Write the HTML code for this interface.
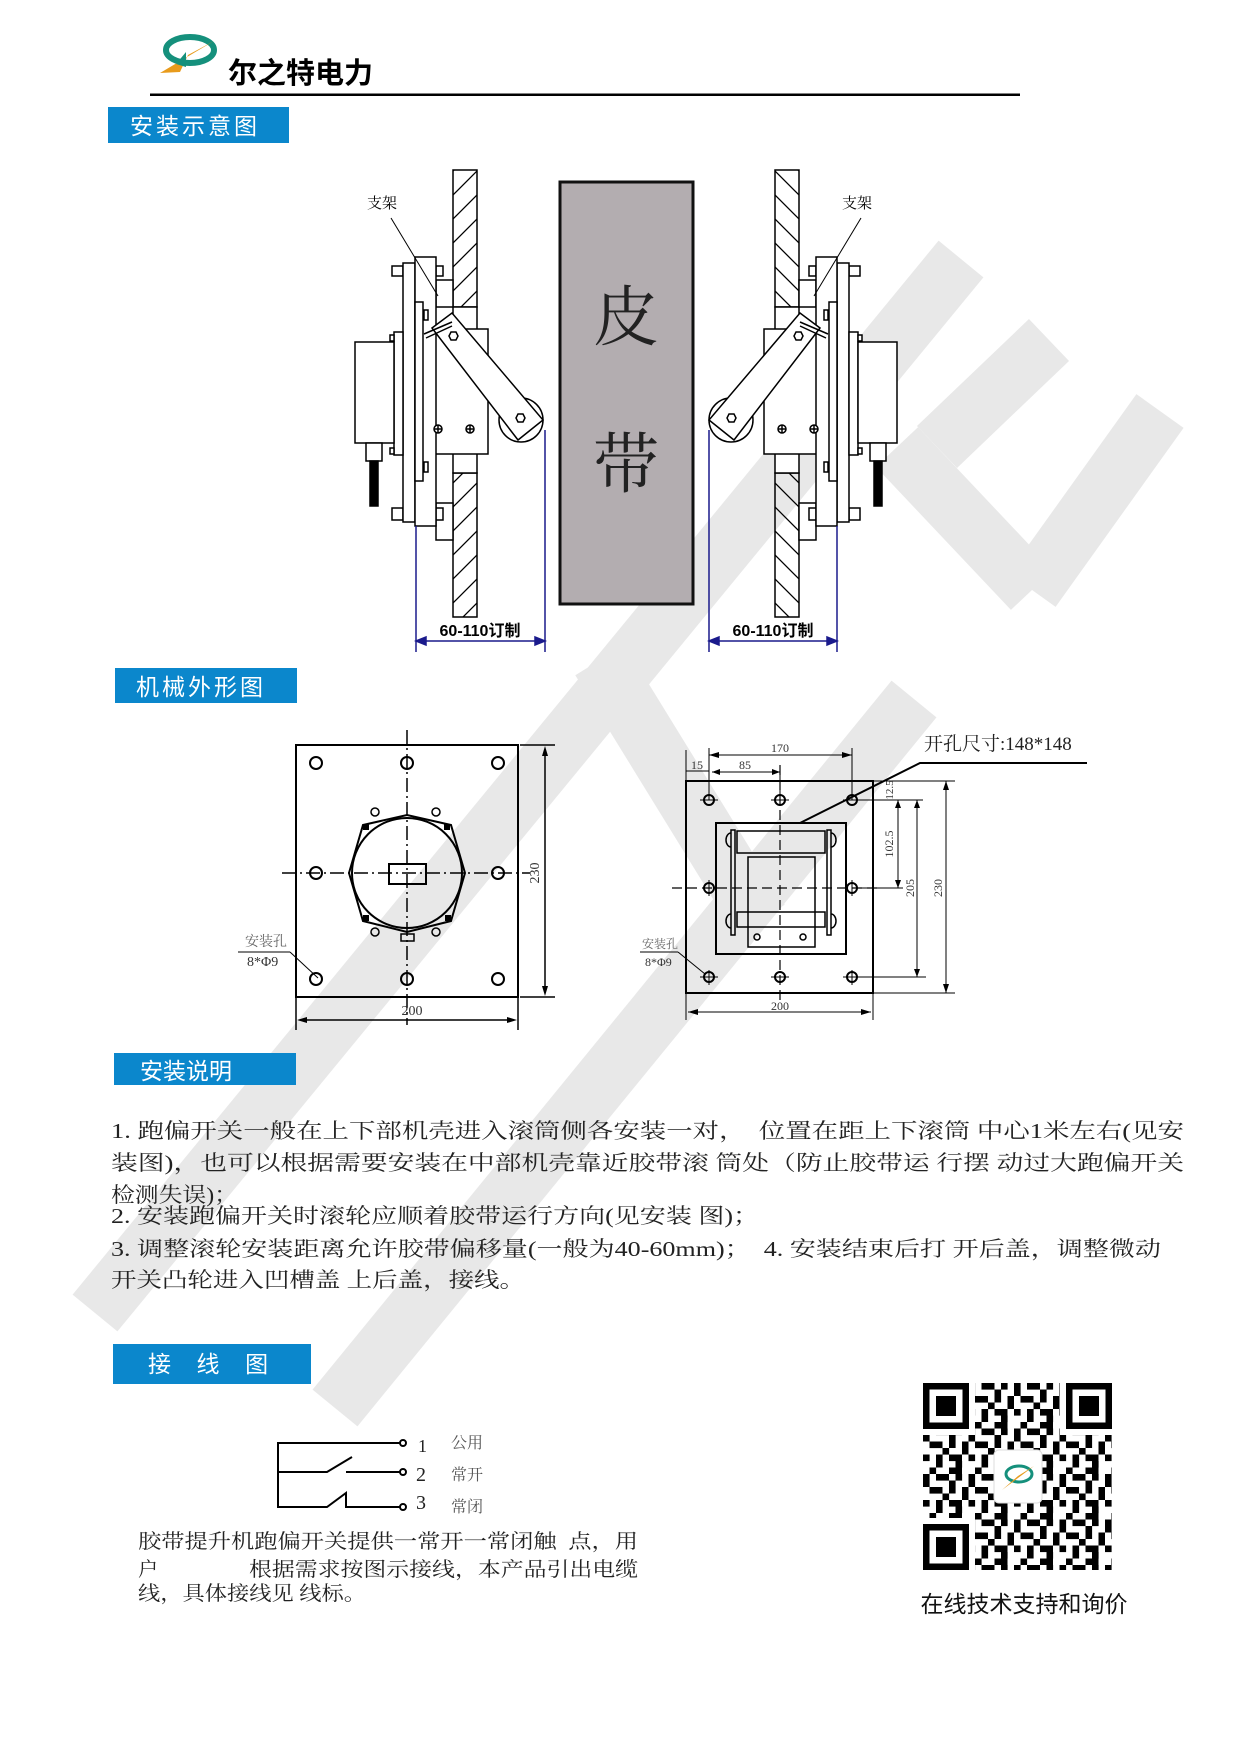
<!DOCTYPE html>
<html><head><meta charset="utf-8"><style>
html,body{margin:0;padding:0;background:#fff}
svg{display:block}
.s{font-family:"Liberation Serif","Noto Serif CJK SC",serif}
.h{font-family:"Liberation Sans","Noto Sans CJK SC",sans-serif}
</style></head><body>
<svg width="1240" height="1754" viewBox="0 0 1240 1754" xmlns="http://www.w3.org/2000/svg">
<defs>
<pattern id="hatch" patternUnits="userSpaceOnUse" width="24" height="24">
<path d="M-6,30 L30,-6 M-6,6 L6,-6 M18,30 L30,18" stroke="#000" stroke-width="1.3"/>
</pattern>
<pattern id="qrp" patternUnits="userSpaceOnUse" x="923" y="1383" width="45.5" height="45.5">
<g fill="#000">
<rect x="0" y="0" width="6.6" height="13"/><rect x="13" y="0" width="13" height="6.6"/><rect x="32.5" y="0" width="6.6" height="6.6"/>
<rect x="6.5" y="13" width="13" height="6.6"/><rect x="26" y="6.5" width="6.6" height="13"/><rect x="39" y="13" width="6.6" height="13"/>
<rect x="0" y="26" width="6.6" height="6.6"/><rect x="13" y="26" width="6.6" height="13"/><rect x="26" y="26" width="13" height="6.6"/>
<rect x="6.5" y="39" width="6.6" height="6.6"/><rect x="26" y="39" width="13" height="6.6"/><rect x="19.5" y="19.5" width="6.6" height="6.6"/>
<rect x="32.5" y="32.5" width="6.6" height="6.6"/>
</g>
</pattern>
</defs>
<!-- watermark -->
<g stroke="#e8e8e8" stroke-width="58" fill="none">
<line x1="961" y1="259" x2="95" y2="1313"/>
<line x1="914" y1="699" x2="335" y2="1408"/>
<line x1="1160" y1="411" x2="1032" y2="590"/>
<line x1="897" y1="447" x2="1032" y2="590"/>
<line x1="1049" y1="340" x2="937" y2="447"/>
<line x1="600" y1="660" x2="760" y2="920"/>
</g>
<!-- header -->
<ellipse cx="190" cy="50" rx="24" ry="13" fill="none" stroke="#15907c" stroke-width="6"/>
<path d="M160,73 L214,41 L188,55 L180,72 Z" fill="#e89b1c"/>
<path d="M176,64 L186,52 L186,67 Z" fill="#15907c"/>
<text x="228" y="83" class="h" font-size="29" font-weight="bold">尔之特电力</text>
<rect x="150" y="93.5" width="870" height="2.5" fill="#000"/>
<!-- section headers -->
<g class="h" fill="#fff" font-size="23">
<rect x="108" y="107" width="181" height="36" fill="#0b87cc"/>
<text x="130" y="134" letter-spacing="3">安装示意图</text>
<rect x="115" y="668" width="182" height="35" fill="#0b87cc"/>
<text x="136" y="695" letter-spacing="3">机械外形图</text>
<rect x="114" y="1053" width="182" height="32" fill="#0b87cc"/>
<text x="140" y="1079">安装说明</text>
<rect x="113" y="1344" width="198" height="40" fill="#0b87cc"/>
<text x="148" y="1372" xml:space="preserve">接    线    图</text>
</g>
<!-- belt -->
<rect x="560" y="182" width="133" height="422" fill="#b3adb0" stroke="#111" stroke-width="3"/>
<text x="626" y="340" text-anchor="middle" class="s" font-size="66" fill="#222">皮</text>
<text x="626" y="487" text-anchor="middle" class="s" font-size="66" fill="#222">带</text>
<!-- left unit -->
<g id="unit" fill="#fff" stroke="#000" stroke-width="1.5">
<rect x="453" y="170" width="24" height="137" fill="url(#hatch)"/>
<rect x="453" y="473" width="24" height="144" fill="url(#hatch)"/>
<rect x="453" y="307" width="24" height="166" fill="#fff"/>
<rect x="436" y="280" width="17" height="27"/>
<rect x="436" y="503" width="17" height="37"/>
<rect x="423" y="329" width="65" height="125"/>
<rect x="392" y="266" width="11" height="10"/>
<rect x="392" y="508" width="11" height="12"/>
<rect x="436" y="266" width="7" height="10"/>
<rect x="436" y="508" width="7" height="12"/>
<rect x="403" y="263" width="12" height="259"/>
<rect x="415" y="257" width="21" height="269"/>
<rect x="415" y="302" width="8" height="179"/>
<rect x="424" y="310" width="4" height="10"/>
<rect x="424" y="462" width="4" height="10"/>
<rect x="394" y="332" width="9" height="123"/>
<rect x="390" y="335" width="4" height="6"/>
<rect x="390" y="448" width="4" height="6"/>
<rect x="355" y="342" width="39" height="101"/>
<rect x="366" y="443" width="16" height="18"/>
<rect x="370" y="461" width="8" height="45" fill="#000"/>
<circle cx="521" cy="420" r="22"/>
<polygon points="432,328 452,313 543,420 518,440"/>
<line x1="424" y1="334" x2="452" y2="322"/>
<line x1="426" y1="338" x2="452" y2="326"/>
<polygon points="449,336 451,332 456,332 458,336 456,340 451,340"/>
<polygon points="516,418 518,414 523,414 525,418 523,422 518,422"/>
<circle cx="438" cy="429" r="4"/><line x1="434" y1="429" x2="442" y2="429"/><line x1="438" y1="425" x2="438" y2="433"/>
<circle cx="470" cy="429" r="4"/><line x1="466" y1="429" x2="474" y2="429"/><line x1="470" y1="425" x2="470" y2="433"/>
</g>
<use href="#unit" transform="translate(1252,0) scale(-1,1)"/>
<g stroke="#000" stroke-width="1">
<line x1="391" y1="218" x2="438" y2="296"/>
<line x1="861" y1="218" x2="814" y2="296"/>
</g>
<text x="367" y="208" class="s" font-size="15">支架</text>
<text x="842" y="208" class="s" font-size="15">支架</text>
<!-- dims -->
<g stroke="#1a1a8c" stroke-width="1.5" fill="#1a1a8c">
<line x1="416" y1="526" x2="416" y2="652"/><line x1="545" y1="430" x2="545" y2="652"/>
<line x1="418" y1="641" x2="543" y2="641"/>
<path d="M416,641 l10,-4 v8z M545,641 l-10,-4 v8z"/>
<line x1="709" y1="430" x2="709" y2="652"/><line x1="837" y1="526" x2="837" y2="652"/>
<line x1="711" y1="641" x2="835" y2="641"/>
<path d="M709,641 l10,-4 v8z M837,641 l-10,-4 v8z"/>
</g>
<text x="480" y="636" text-anchor="middle" class="h" font-size="16" font-weight="bold">60-110订制</text>
<text x="773" y="636" text-anchor="middle" class="h" font-size="16" font-weight="bold">60-110订制</text>
<!-- left mechanical -->
<g fill="none" stroke="#000" stroke-width="1.5">
<rect x="296" y="745" width="222" height="252" stroke-width="2"/>
<g stroke-width="2">
<circle cx="316" cy="763" r="6"/><circle cx="407" cy="763" r="6"/><circle cx="498" cy="763" r="6"/>
<circle cx="316" cy="873" r="6"/><circle cx="498" cy="873" r="6"/>
<circle cx="316" cy="979" r="6"/><circle cx="407" cy="979" r="6"/><circle cx="498" cy="979" r="6"/>
</g>
<polygon points="349,873 363,825 407,815 451,825 465,873 451,921 407,932 363,921" stroke-width="2"/>
<circle cx="407" cy="873" r="55" stroke-width="2"/>
<circle cx="375" cy="812" r="4"/><circle cx="436" cy="812" r="4"/>
<circle cx="375" cy="932" r="4"/><circle cx="436" cy="932" r="4"/>
<rect x="389" y="864" width="37" height="20" stroke-width="2"/>
<rect x="401" y="934" width="13" height="7"/>
<line x1="407" y1="730" x2="407" y2="1025" stroke-dasharray="14,4,2,4"/>
<line x1="282" y1="873" x2="530" y2="873" stroke-dasharray="14,4,2,4"/>
<line x1="520" y1="745" x2="555" y2="745"/><line x1="520" y1="997" x2="555" y2="997"/>
<line x1="545" y1="750" x2="545" y2="992"/>
<line x1="296" y1="997" x2="296" y2="1030"/><line x1="518" y1="997" x2="518" y2="1030"/>
<line x1="300" y1="1020" x2="514" y2="1020"/>
<line x1="238" y1="952" x2="290" y2="952" stroke-width="1"/>
<line x1="290" y1="952" x2="318" y2="978" stroke-width="1"/>
</g>
<g fill="#000">
<rect x="363" y="824" width="6" height="6"/><rect x="444" y="824" width="6" height="6"/>
<rect x="363" y="915" width="6" height="6"/><rect x="445" y="915" width="6" height="6"/>
<path d="M545,746 l-3,10 h6z M545,996 l-3,-10 h6z M297,1020 l10,-3 v6z M517,1020 l-10,-3 v6z"/>
</g>
<g class="s" font-size="14" fill="#333">
<text x="539" y="873" transform="rotate(-90 539 873)" text-anchor="middle">230</text>
<text x="412" y="1015" text-anchor="middle">200</text>
<text x="245" y="946" fill="#666">安装孔</text>
<text x="247" y="966">8*Φ9</text>
</g>
<!-- right mechanical -->
<g fill="none" stroke="#000" stroke-width="1.5">
<rect x="686" y="781" width="187" height="212" stroke-width="2"/>
<rect x="716" y="823" width="130" height="131" stroke-width="2"/>
<rect x="748" y="857" width="67" height="90"/>
<rect x="737" y="831" width="88" height="22"/>
<rect x="737" y="912" width="88" height="15"/>
<rect x="731" y="830" width="4" height="105"/>
<rect x="827" y="830" width="4" height="105"/>
<path d="M731,833 a5,7 0 0 0 0,14 M831,833 a5,7 0 0 1 0,14 M731,914 a5,7 0 0 0 0,14 M831,914 a5,7 0 0 1 0,14"/>
<circle cx="757" cy="937" r="3"/><circle cx="803" cy="937" r="3"/>
<g stroke-width="2">
<circle cx="709" cy="800" r="5"/><circle cx="780" cy="800" r="5"/><circle cx="852" cy="800" r="5"/>
<circle cx="709" cy="888" r="5"/><circle cx="852" cy="888" r="5"/>
<circle cx="709" cy="977" r="5"/><circle cx="780" cy="977" r="5"/><circle cx="852" cy="977" r="5"/>
</g>
<g stroke-width="1">
<line x1="700" y1="800" x2="718" y2="800"/><line x1="771" y1="800" x2="789" y2="800"/><line x1="843" y1="800" x2="861" y2="800"/>
<line x1="700" y1="977" x2="718" y2="977"/><line x1="771" y1="977" x2="789" y2="977"/><line x1="843" y1="977" x2="861" y2="977"/>
<line x1="709" y1="970" x2="709" y2="985"/><line x1="852" y1="970" x2="852" y2="985"/>
<line x1="852" y1="880" x2="852" y2="896"/><line x1="709" y1="880" x2="709" y2="896"/>
<line x1="686" y1="750" x2="686" y2="781"/><line x1="709" y1="748" x2="709" y2="800"/>
<line x1="852" y1="748" x2="852" y2="800"/><line x1="780" y1="765" x2="780" y2="800"/>
<line x1="709" y1="755" x2="852" y2="755"/><line x1="712" y1="772" x2="780" y2="772"/>
<line x1="686" y1="771" x2="709" y2="771"/>
<line x1="873" y1="781" x2="955" y2="781"/><line x1="857" y1="800" x2="923" y2="800"/>
<line x1="857" y1="888" x2="903" y2="888"/><line x1="857" y1="977" x2="926" y2="977"/>
<line x1="873" y1="993" x2="955" y2="993"/>
<line x1="898" y1="800" x2="898" y2="888"/><line x1="917" y1="800" x2="917" y2="977"/>
<line x1="946" y1="781" x2="946" y2="993"/>
<line x1="686" y1="993" x2="686" y2="1020"/><line x1="873" y1="993" x2="873" y2="1020"/>
<line x1="688" y1="1012" x2="871" y2="1012"/>
<line x1="640" y1="952" x2="678" y2="952"/><line x1="678" y1="952" x2="705" y2="974"/>
</g>
<line x1="780" y1="765" x2="780" y2="1000" stroke-dasharray="10,5" stroke-width="1.2"/>
<line x1="672" y1="888" x2="880" y2="888" stroke-dasharray="10,5" stroke-width="1.2"/>
<polyline points="800,823 920,763 1087,763" stroke-width="2"/>
</g>
<g fill="#000">
<path d="M709,755 l10,-3 v6z M852,755 l-10,-3 v6z M712,772 l8,-3 v6z M780,772 l-8,-3 v6z M898,800 l-3,8 h6z M898,888 l-3,-8 h6z M917,800 l-3,8 h6z M917,977 l-3,-8 h6z M946,781 l-3,9 h6z M946,993 l-3,-9 h6z M688,1012 l10,-3 v6z M871,1012 l-10,-3 v6z"/>
</g>
<g class="s" font-size="12" fill="#333">
<text x="780" y="752" text-anchor="middle">170</text>
<text x="745" y="769" text-anchor="middle">85</text>
<text x="697" y="769" text-anchor="middle">15</text>
<text x="893" y="790" transform="rotate(-90 893 790)" text-anchor="middle" font-size="11">12.5</text>
<text x="893" y="844" transform="rotate(-90 893 844)" text-anchor="middle">102.5</text>
<text x="914" y="888" transform="rotate(-90 914 888)" text-anchor="middle">205</text>
<text x="942" y="888" transform="rotate(-90 942 888)" text-anchor="middle">230</text>
<text x="780" y="1010" text-anchor="middle">200</text>
<text x="642" y="948" fill="#666">安装孔</text>
<text x="645" y="966">8*Φ9</text>
</g>
<text x="924" y="750" class="s" font-size="19" fill="#222">开孔尺寸:148*148</text>
<!-- paragraph -->
<g class="s" font-size="21" fill="#222">
<text x="111" y="1138" textLength="1073" lengthAdjust="spacingAndGlyphs" xml:space="preserve">1. 跑偏开关一般在上下部机壳进入滚筒侧各安装一对，  位置在距上下滚筒 中心1米左右(见安</text>
<text x="111" y="1170" textLength="1073" lengthAdjust="spacingAndGlyphs">装图)，也可以根据需要安装在中部机壳靠近胶带滚 筒处（防止胶带运 行摆  动过大跑偏开关</text>
<text x="111" y="1202" textLength="127" lengthAdjust="spacingAndGlyphs">检测失误)；</text>
<text x="111" y="1223" textLength="648" lengthAdjust="spacingAndGlyphs">2. 安装跑偏开关时滚轮应顺着胶带运行方向(见安装 图)；</text>
<text x="111" y="1256" textLength="1050" lengthAdjust="spacingAndGlyphs" xml:space="preserve">3. 调整滚轮安装距离允许胶带偏移量(一般为40-60mm)；  4. 安装结束后打 开后盖，调整微动</text>
<text x="111" y="1287" textLength="414" lengthAdjust="spacingAndGlyphs">开关凸轮进入凹槽盖 上后盖，接线。</text>
</g>
<!-- wiring -->
<g fill="none" stroke="#000" stroke-width="2">
<polyline points="400,1443 278,1443 278,1507 327,1507 346,1493 346,1507 400,1507"/>
<polyline points="278,1472 327,1472 352,1457"/>
<line x1="346" y1="1472" x2="400" y2="1472"/>
<circle cx="403" cy="1443" r="3"/><circle cx="403" cy="1472" r="3"/><circle cx="403" cy="1507" r="3"/>
</g>
<g class="s" fill="#222">
<text x="418" y="1452" font-size="18">1</text>
<text x="416" y="1481" font-size="20">2</text>
<text x="416" y="1509" font-size="20">3</text>
<text x="451" y="1448" font-size="16" fill="#555">公用</text>
<text x="451" y="1480" font-size="16" fill="#555">常开</text>
<text x="451" y="1512" font-size="16" fill="#555">常闭</text>
</g>
<g class="s" font-size="20" fill="#222">
<text x="138" y="1548" textLength="500" lengthAdjust="spacingAndGlyphs" xml:space="preserve">胶带提升机跑偏开关提供一常开一常闭触  点，用</text>
<text x="138" y="1576">户</text>
<text x="249" y="1576" textLength="389" lengthAdjust="spacingAndGlyphs">根据需求按图示接线，本产品引出电缆</text>
<text x="138" y="1600" textLength="228" lengthAdjust="spacingAndGlyphs">线，具体接线见 线标。</text>
</g>
<!-- QR -->
<rect x="923" y="1383" width="189" height="187" fill="url(#qrp)"/>
<g>
<rect x="923" y="1383" width="46" height="46" fill="#000"/><rect x="929.5" y="1389.5" width="33" height="33" fill="#fff"/><rect x="936" y="1396" width="20" height="20" fill="#000"/>
<rect x="1066" y="1383" width="46" height="46" fill="#000"/><rect x="1072.5" y="1389.5" width="33" height="33" fill="#fff"/><rect x="1079" y="1396" width="20" height="20" fill="#000"/>
<rect x="923" y="1524" width="46" height="46" fill="#000"/><rect x="929.5" y="1530.5" width="33" height="33" fill="#fff"/><rect x="936" y="1537" width="20" height="20" fill="#000"/>
<rect x="969" y="1383" width="6" height="46" fill="#fff"/><rect x="923" y="1429" width="52" height="6" fill="#fff"/>
<rect x="1060" y="1383" width="6" height="52" fill="#fff"/><rect x="1060" y="1429" width="52" height="6" fill="#fff"/>
<rect x="923" y="1518" width="52" height="6" fill="#fff"/><rect x="969" y="1518" width="6" height="52" fill="#fff"/>
<rect x="994" y="1450" width="48" height="53" rx="5" fill="#fff" stroke="#ddd"/>
<ellipse cx="1019" cy="1474" rx="13" ry="8" fill="none" stroke="#15907c" stroke-width="3"/>
<path d="M1002,1490 L1034,1466 L1018,1476 Z" fill="#e89b1c"/>
</g>
<text x="1024" y="1612" text-anchor="middle" class="h" font-size="23" fill="#111">在线技术支持和询价</text>
</svg>
</body></html>
